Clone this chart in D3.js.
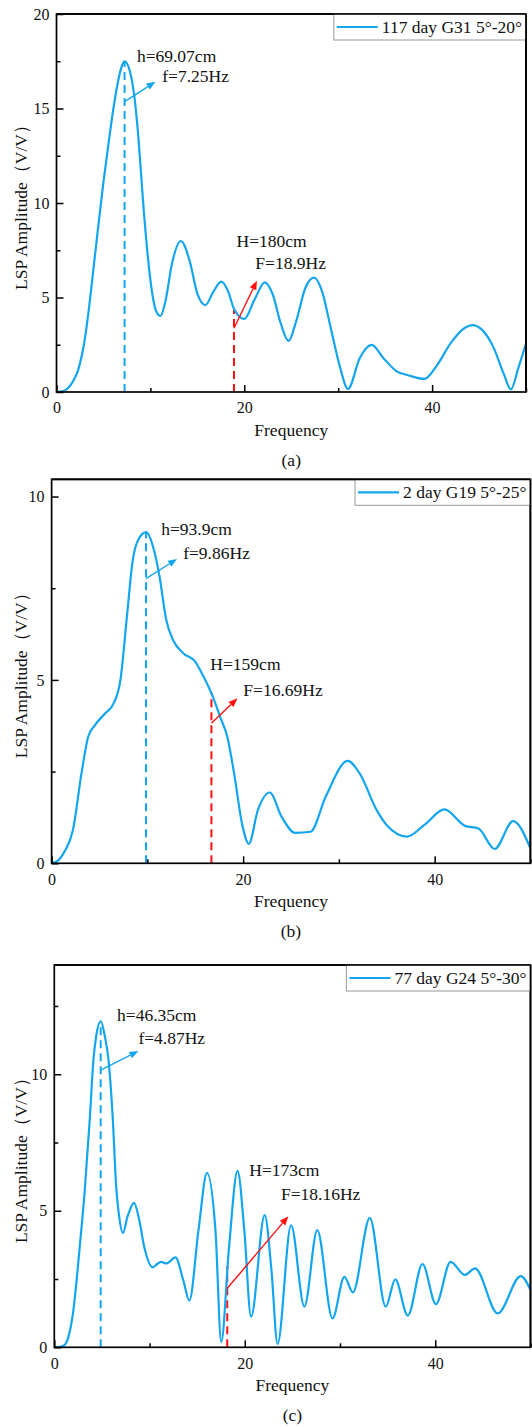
<!DOCTYPE html>
<html><head><meta charset="utf-8">
<script src="https://cdn.jsdelivr.net/npm/d3@7"></script>
<style>body{margin:0;background:#fff}svg{display:block}</style>
</head><body>
<script>
// ---------- DATA ----------
const freqA = [0,0.6,1.2,1.8,2.3,3.0,3.5,4.0,4.5,5.0,5.5,6.0,6.5,7.0,7.25,7.8,8.3,8.75,9.2,9.7,10.2,10.6,11.08,11.6,12.3,13.25,14.2,15.0,15.85,16.7,17.55,18.3,18.9,20.0,21.1,22.18,23.0,23.9,24.71,25.5,26.5,27.43,28.3,29.2,30.2,31.04,32.3,33.57,34.8,36.28,37.37,39.18,40.5,42.0,43.5,44.3,45.3,46.5,47.6,48.4,49.2,50];
const ampA  = [0,0.03,0.2,0.6,1.16,2.75,4.6,6.8,9.0,11.1,13.0,14.8,16.3,17.3,17.5,17.0,15.6,13.3,10.2,7.3,5.2,4.3,4.02,4.8,6.8,7.99,6.9,5.2,4.6,5.3,5.84,5.3,4.4,3.86,4.9,5.8,5.2,3.6,2.7,3.7,5.5,6.05,5.3,3.4,1.3,0.16,1.8,2.49,1.8,1.08,0.9,0.69,1.4,2.6,3.4,3.54,3.3,2.4,1.0,0.14,1.3,2.57];

const freqB = [0,0.7,1.35,2.23,3.12,3.82,4.53,5.6,6.48,7.19,7.9,8.43,8.96,9.86,10.73,11.27,11.97,12.68,13.75,14.99,15.87,16.76,17.65,18.35,19.06,19.95,20.59,21.54,22.78,24.02,25.44,27.04,28.63,30.93,32.17,33.95,35.0,37.13,38.9,41.03,43.16,44.57,46.27,48.19,50];
const ampB  = [0,0.08,0.32,0.91,2.45,3.45,3.77,4.09,4.36,5.0,6.82,8.18,8.77,9.03,8.5,7.82,6.64,6.09,5.73,5.5,5.09,4.59,3.96,3.45,2.45,1.0,0.53,1.45,1.93,1.27,0.83,0.86,1.82,2.79,2.45,1.45,1.04,0.73,1.04,1.47,1.02,0.95,0.39,1.15,0.41];

const freqC = [0,0.5,1.07,1.5,1.96,2.67,3.2,3.74,4.1,4.4,4.88,5.3,5.7,6.13,6.52,6.77,7.2,7.7,8.37,8.9,9.44,10.33,10.8,11.22,11.76,12.72,13.54,14.18,15.14,16.03,16.92,17.53,18.35,19.24,19.95,20.66,22.09,22.8,23.44,24.86,26.26,27.61,29.21,30.46,31.35,33.13,34.8,35.8,37.12,38.66,40.07,41.61,43.11,44.18,46.56,48.98,50];
const ampC  = [0,0.01,0.08,0.4,1.24,3.68,5.76,8.44,10.5,11.4,11.94,11.4,10.5,8.44,5.76,4.9,4.19,4.8,5.29,4.7,3.68,2.93,3.05,3.13,3.07,3.29,2.46,1.71,4.29,6.39,4.29,0.2,3.68,6.46,4.29,1.12,4.84,2.83,0.12,4.47,1.49,4.29,1.06,2.58,2.01,4.74,1.49,2.49,1.16,3.05,1.58,3.13,2.65,2.89,1.24,2.61,2.1];

const legendLabels = ["117 day G31 5°-20°", "2 day G19 5°-25°", "77 day G24 5°-30°"];
const captions = ["(a)", "(b)", "(c)"];
const xTickMajor = [0, 20, 40];
const xTickMinor = [10, 30, 50];
const yMaxes = [20, 10.47, 14];
const yTickMajorA = [0, 5, 10, 15, 20], yTickMinorA = [2.5, 7.5, 12.5, 17.5];
const yTickMajorB = [0, 5, 10],         yTickMinorB = [2.5, 7.5];
const yTickMajorC = [0, 5, 10],         yTickMinorC = [2.5, 7.5, 12.5];

// marked peaks: [frequency, top of dashed line]
const blueMarkA = [7.25, 17.5],  redMarkA = [18.9, 4.34];
const blueMarkB = [9.86, 9.03],  redMarkB = [16.69, 4.64];
const blueMarkC = [4.87, 11.94], redMarkC = [18.16, 2.97];
// arrows: [f0, a0, f1, a1]
const blueArrowA = [7.25, 15.36, 10.54, 16.42], redArrowA = [18.9, 3.37, 21.35, 5.89];
const blueArrowB = [9.86, 7.76, 13.1, 8.3],     redArrowB = [16.69, 3.82, 19.41, 4.5];
const blueArrowC = [4.87, 10.15, 8.83, 10.85],  redArrowC = [18.16, 2.16, 24.58, 4.8];
// annotation texts and anchor positions (data units)
const annTextA = ["h=69.07cm", "f=7.25Hz", "H=180cm", "F=18.9Hz"];
const annPosA  = [[8.56, 17.78], [11.26, 16.72], [19.18, 7.99], [21.17, 6.84]];
const annTextB = ["h=93.9cm", "f=9.86Hz", "H=159cm", "F=16.69Hz"];
const annPosB  = [[11.45, 9.11], [13.74, 8.46], [16.58, 5.43], [20.02, 4.73]];
const annTextC = ["h=46.35cm", "f=4.87Hz", "H=173cm", "F=18.16Hz"];
const annPosC  = [[6.59, 12.16], [8.83, 11.34], [20.48, 6.49], [23.8, 5.61]];

// ---------- LAYOUT ----------
const W = 532, H = 1427;
const BLUE = "#14a5ef", RED = "#ff1111";
const FONT = "'Liberation Serif','Times New Roman',serif";

const panels = [
  {freq: freqA, amp: ampA, yMax: yMaxes[0], yMaj: yTickMajorA, yMin: yTickMinorA, legend: legendLabels[0], cap: captions[0],
   bm: blueMarkA, rm: redMarkA, ba: blueArrowA, ra: redArrowA, txt: annTextA, pos: annPosA,
   box: {l: 56.5, r: 526, t: 14, b: 392}},
  {freq: freqB, amp: ampB, yMax: yMaxes[1], yMaj: yTickMajorB, yMin: yTickMinorB, legend: legendLabels[1], cap: captions[1],
   bm: blueMarkB, rm: redMarkB, ba: blueArrowB, ra: redArrowB, txt: annTextB, pos: annPosB,
   box: {l: 51.6, r: 530.4, t: 479.3, b: 863.3}},
  {freq: freqC, amp: ampC, yMax: yMaxes[2], yMaj: yTickMajorC, yMin: yTickMinorC, legend: legendLabels[2], cap: captions[2],
   bm: blueMarkC, rm: redMarkC, ba: blueArrowC, ra: redArrowC, txt: annTextC, pos: annPosC,
   box: {l: 54.3, r: 530.5, t: 965, b: 1347.3}}
];

const svg = d3.select("body").append("svg").attr("width", W).attr("height", H)
  .style("font-family", FONT);

panels.forEach((p, i) => {
  const b = p.box;
  const x = d3.scaleLinear().domain([0, 50]).range([b.l, b.r]);
  const y = d3.scaleLinear().domain([0, p.yMax]).range([b.b, b.t]);
  const g = svg.append("g");

  const clipId = "clip" + i;
  g.append("clipPath").attr("id", clipId).append("rect")
    .attr("x", b.l).attr("y", b.t).attr("width", b.r - b.l).attr("height", b.b - b.t);

  // dashed marker lines
  [[p.bm, BLUE], [p.rm, RED]].forEach(([m, c]) => {
    g.append("line").attr("x1", x(m[0])).attr("x2", x(m[0]))
      .attr("y1", y(0)).attr("y2", y(m[1]))
      .attr("stroke", c).attr("stroke-width", 2).attr("stroke-dasharray", "8,5");
  });

  // curve
  const pts = p.freq.map((f, k) => [f, p.amp[k]]);
  const line = d3.line().x(d => x(d[0])).y(d => y(d[1])).curve(d3.curveMonotoneX);
  g.append("path").attr("d", line(pts)).attr("fill", "none")
    .attr("stroke", BLUE).attr("stroke-width", 2.2).attr("clip-path", `url(#${clipId})`);

  // arrows
  [[p.ba, BLUE], [p.ra, RED]].forEach(([a, c]) => {
    const x0 = x(a[0]), y0 = y(a[1]), x1 = x(a[2]), y1 = y(a[3]);
    const ang = Math.atan2(y1 - y0, x1 - x0);
    const L = 9, Wd = 3.6;
    const bx = x1 - L * Math.cos(ang), by = y1 - L * Math.sin(ang);
    g.append("line").attr("x1", x0).attr("y1", y0).attr("x2", bx).attr("y2", by)
      .attr("stroke", c).attr("stroke-width", 1.4);
    const px = -Math.sin(ang), py = Math.cos(ang);
    g.append("polygon").attr("points",
      [[x1, y1], [bx + px * Wd, by + py * Wd], [bx - px * Wd, by - py * Wd]].map(q => q.join(",")).join(" "))
      .attr("fill", c);
  });

  // annotation texts
  p.txt.forEach((t, k) => {
    g.append("text").attr("x", x(p.pos[k][0])).attr("y", y(p.pos[k][1]))
      .attr("dominant-baseline", "central").attr("font-size", 17.5).attr("fill", "#111").text(t);
  });

  // axes
  const xAx = g.append("g").attr("transform", `translate(0,${b.b})`)
    .call(d3.axisBottom(x).tickValues(xTickMajor).tickSize(-7).tickPadding(10).tickFormat(d3.format("d")));
  const xAxm = g.append("g").attr("transform", `translate(0,${b.b})`)
    .call(d3.axisBottom(x).tickValues(xTickMinor).tickSize(-4).tickFormat(""));
  const yAx = g.append("g").attr("transform", `translate(${b.l},0)`)
    .call(d3.axisLeft(y).tickValues(p.yMaj).tickSize(-7).tickPadding(7).tickFormat(d3.format("d")));
  const yAxm = g.append("g").attr("transform", `translate(${b.l},0)`)
    .call(d3.axisLeft(y).tickValues(p.yMin).tickSize(-4).tickFormat(""));
  [xAx, xAxm, yAx, yAxm].forEach(a => {
    a.attr("font-family", FONT);
    a.select(".domain").remove();
    a.selectAll(".tick line").attr("stroke", "#000").attr("stroke-width", 1.5);
    a.selectAll("text").attr("font-family", FONT).attr("font-size", 16).attr("fill", "#111");
  });

  // frame
  g.append("rect").attr("x", b.l).attr("y", b.t).attr("width", b.r - b.l).attr("height", b.b - b.t)
    .attr("fill", "none").attr("stroke", "#000").attr("stroke-width", 1.7);

  // legend
  const lg = g.append("g");
  const lt = lg.append("text").attr("font-size", 17.5).attr("fill", "#111").text(p.legend);
  const tw = lt.node().getComputedTextLength();
  const bw = 48 + tw + 4, bh = 26;
  const bl = b.r - bw;
  lg.insert("rect", "text").attr("x", bl).attr("y", b.t).attr("width", bw).attr("height", bh)
    .attr("fill", "#fff").attr("stroke", "#999").attr("stroke-width", 1);
  lg.append("line").attr("x1", bl + 3).attr("x2", bl + 44).attr("y1", b.t + 13).attr("y2", b.t + 13)
    .attr("stroke", BLUE).attr("stroke-width", 2.2);
  lt.attr("x", bl + 48).attr("y", b.t + 13).attr("dominant-baseline", "central");
  // redraw frame edges over legend box
  g.append("line").attr("x1", b.l).attr("x2", b.r).attr("y1", b.t).attr("y2", b.t).attr("stroke", "#000").attr("stroke-width", 1.7);
  g.append("line").attr("x1", b.r).attr("x2", b.r).attr("y1", b.t).attr("y2", b.b).attr("stroke", "#000").attr("stroke-width", 1.7);

  // axis titles
  const cx = (b.l + b.r) / 2;
  g.append("text").attr("x", cx).attr("y", b.b + 38).attr("text-anchor", "middle")
    .attr("dominant-baseline", "central").attr("font-size", 17.5).attr("fill", "#111").text("Frequency");
  g.append("text").attr("x", cx).attr("y", b.b + 68).attr("text-anchor", "middle")
    .attr("dominant-baseline", "central").attr("font-size", 17.5).attr("fill", "#111").text(p.cap);
  g.append("text").attr("transform", `translate(21,${(b.t + b.b) / 2}) rotate(-90)`)
    .attr("text-anchor", "middle").attr("dominant-baseline", "central")
    .attr("font-size", 17.5).attr("fill", "#111").text("LSP Amplitude（V/V）");
});
</script>
</body></html>
